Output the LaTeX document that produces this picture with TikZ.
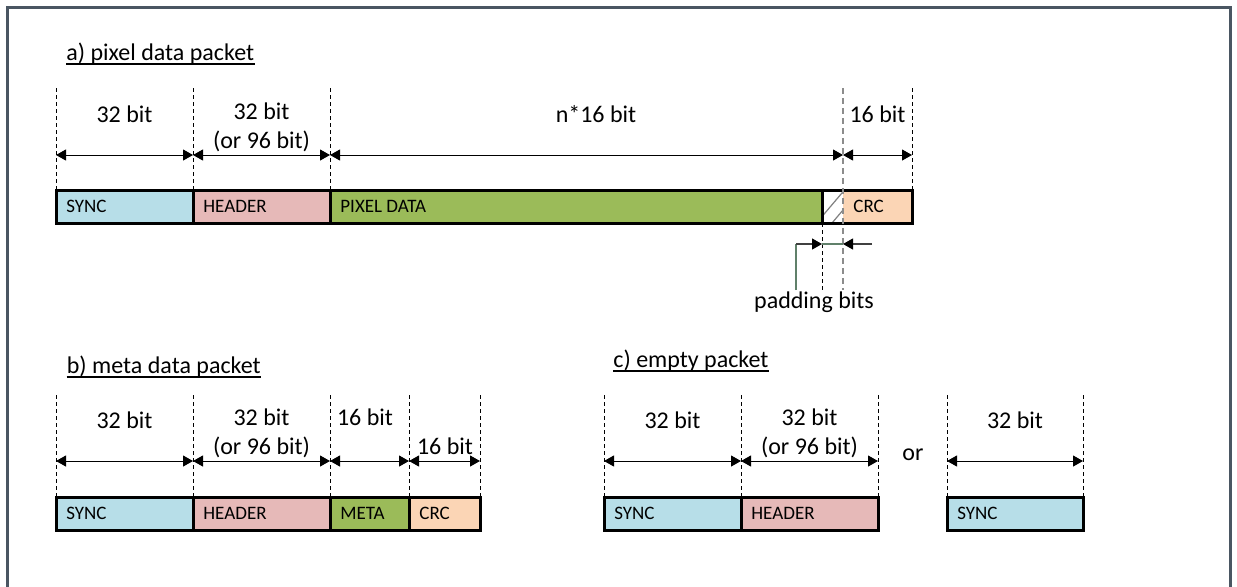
\documentclass[tikz,border=0pt]{standalone}
\usepackage{fontspec}
\setmainfont{Carlito}
\usetikzlibrary{arrows.meta}
\definecolor{framec}{RGB}{74,86,98}
\definecolor{syncc}{RGB}{183,222,232}
\definecolor{headc}{RGB}{230,185,184}
\definecolor{datac}{RGB}{155,187,89}
\definecolor{crcc}{RGB}{251,213,181}
\definecolor{padc}{RGB}{96,128,106}
\tikzset{
  cellbox/.style={draw=black, line width=1.5pt, minimum height=16.5pt, inner sep=0pt, outer sep=0pt, anchor=north west},
  celltxt/.style={font=\fontsize{9.5}{11}\selectfont, anchor=west, inner sep=0pt},
  lbl/.style={font=\fontsize{12}{14}\selectfont, anchor=base, inner sep=0pt},
  ttl/.style={font=\fontsize{12}{14}\selectfont, anchor=base west, inner sep=0pt},
  guide/.style={draw=black, line width=0.5pt, dash pattern=on 2pt off 1.5pt},
  gguide/.style={draw=black!45, line width=1pt, dash pattern=on 3pt off 2pt},
  dim/.style={line width=0.5pt, {Triangle[length=5pt,width=5.5pt]}-{Triangle[length=5pt,width=5.5pt]}},
  tipr/.style={-{Triangle[length=5pt,width=5.5pt,black]}},
}
\newcommand\pkcell[6]{%
  \node[cellbox, fill=#5, minimum width={(#3-#2)*0.5pt}] (#1) at (#2,#4) {};
  \node[celltxt] (#1t) at ([xshift=5pt]#1.west) {#6};}
\newcommand\ulttl[4]{%
  \node[ttl] (#1) at (#2,#3) {#4};
  \draw[line width=0.8pt] ([yshift=-2pt]#1.base west) -- ([yshift=-2pt]#1.base east);}
\begin{document}
\begin{tikzpicture}[x=0.5pt,y=-0.5pt]
\useasboundingbox (0,0) rectangle (1237,586);
\clip (0,0) rectangle (1237,586);
\draw[framec, line width=1.5pt] (7,620) -- (7,7.5) -- (1230.5,7.5) -- (1230.5,620);

% ---------- a) pixel data packet ----------
\ulttl{ta1}{66}{60}{a) pixel data packet}
\coordinate (ta) at (0,88);
\coordinate (ya) at (0,155);
\coordinate (la) at (0,290);
\pkcell{aS}{56}{193}{190}{syncc}{SYNC}
\pkcell{aH}{193}{330}{190}{headc}{HEADER}
\pkcell{aD}{330}{822}{190}{datac}{PIXEL DATA}
\node[cellbox, draw=none, fill=white, minimum width=10.5pt] (aP) at (822,190) {};
\node[cellbox, draw=none, fill=crcc, minimum width=34.5pt] (aC) at (843,190) {};
\node[celltxt] (aCt) at ([xshift=5pt]aC.west) {CRC};
\begin{scope}
  \clip (aP.south west) rectangle (aP.north east);
  \draw[black!50, line width=0.6pt] (816.5,223) -- (844.5,190);
  \draw[black!50, line width=0.6pt] (832,223) -- (860,190);
\end{scope}
\draw[line width=1.5pt] (aP.north west) -| (aC.south east) -- (aP.south west);
\draw[line width=1.5pt] (aD.north east) -- (aD.south east);

\draw[guide] (aS.north west |- ta) -- (aS.north west);
\draw[guide] (aH.north west |- ta) -- (aH.north west);
\draw[guide] (aD.north west |- ta) -- (aD.north west);
\draw[guide] (aC.north east |- ta) -- (aC.north east);
\draw[guide] (aP.south west) -- (aP.south west |- la);
\draw[gguide] (aC.north west |- ta) -- (aC.north west |- la);

\draw[dim] (aS.north west |- ya) -- (aS.north east |- ya);
\draw[dim] (aH.north west |- ya) -- (aH.north east |- ya);
\draw[dim] (aD.north west |- ya) -- (aC.north west |- ya);
\draw[dim] (aC.north west |- ya) -- (aC.north east |- ya);

\node[lbl] (aL1) at (124.5,122) {32 bit};
\node[lbl] (aL2) at (261.5,119) {32 bit};
\node[lbl] (aL3) at (261.5,148) {(or 96 bit)};
\node[lbl] (aL4) at (596,122) {n*16 bit};
\node[lbl] (aL5) at (877.5,122) {16 bit};

% padding bits
\coordinate (pb) at (796,290);
\coordinate (pa) at (796,244);
\coordinate (pr) at (872,244);
\draw[padc, line width=0.6pt] (pb) -- (pa);
\draw[black!75, line width=0.6pt, tipr] (pa) -- (aP.south west |- pa);
\draw[padc, line width=0.6pt] (aP.south west |- pa) -- (aP.south east |- pa);
\draw[black!75, line width=0.6pt, tipr] (pr) -- (aP.south east |- pa);
\node[lbl] (pbt) at (814,308) {padding bits};

% ---------- b) meta data packet ----------
\ulttl{tb1}{66.5}{373}{b) meta data packet}
\coordinate (tb) at (0,395);
\coordinate (yb) at (0,461);
\pkcell{bS}{56}{193}{497}{syncc}{SYNC}
\pkcell{bH}{193}{330}{497}{headc}{HEADER}
\pkcell{bM}{330}{409}{497}{datac}{META}
\pkcell{bC}{409}{480}{497}{crcc}{CRC}
\draw[guide] (bS.north west |- tb) -- (bS.north west);
\draw[guide] (bH.north west |- tb) -- (bH.north west);
\draw[guide] (bM.north west |- tb) -- (bM.north west);
\draw[guide] (bC.north west |- tb) -- (bC.north west);
\draw[guide] (bC.north east |- tb) -- (bC.north east);
\draw[dim] (bS.north west |- yb) -- (bS.north east |- yb);
\draw[dim] (bH.north west |- yb) -- (bH.north east |- yb);
\draw[dim] (bM.north west |- yb) -- (bM.north east |- yb);
\draw[dim] (bC.north west |- yb) -- (bC.north east |- yb);
\node[lbl] (bL1) at (124.5,428) {32 bit};
\node[lbl] (bL2) at (261.5,425) {32 bit};
\node[lbl] (bL3) at (261.5,454) {(or 96 bit)};
\node[lbl] (bL4) at (365,425) {16 bit};
\node[lbl] (bL5) at (445,454) {16 bit};

% ---------- c) empty packet ----------
\ulttl{tc1}{613}{367}{c) empty packet}
\pkcell{cS}{604}{741}{497}{syncc}{SYNC}
\pkcell{cH}{741}{878}{497}{headc}{HEADER}
\pkcell{cT}{947}{1083}{497}{syncc}{SYNC}
\draw[guide] (cS.north west |- tb) -- (cS.north west);
\draw[guide] (cH.north west |- tb) -- (cH.north west);
\draw[guide] (cH.north east |- tb) -- (cH.north east);
\draw[guide] (cT.north west |- tb) -- (cT.north west);
\draw[guide] (cT.north east |- tb) -- (cT.north east);
\draw[dim] (cS.north west |- yb) -- (cS.north east |- yb);
\draw[dim] (cH.north west |- yb) -- (cH.north east |- yb);
\draw[dim] (cT.north west |- yb) -- (cT.north east |- yb);
\node[lbl] (cL1) at (672.5,428) {32 bit};
\node[lbl] (cL2) at (809.5,425) {32 bit};
\node[lbl] (cL3) at (809.5,454) {(or 96 bit)};
\node[lbl] (cOr) at (913,460) {or};
\node[lbl] (cL4) at (1015,428) {32 bit};
\end{tikzpicture}
\end{document}
